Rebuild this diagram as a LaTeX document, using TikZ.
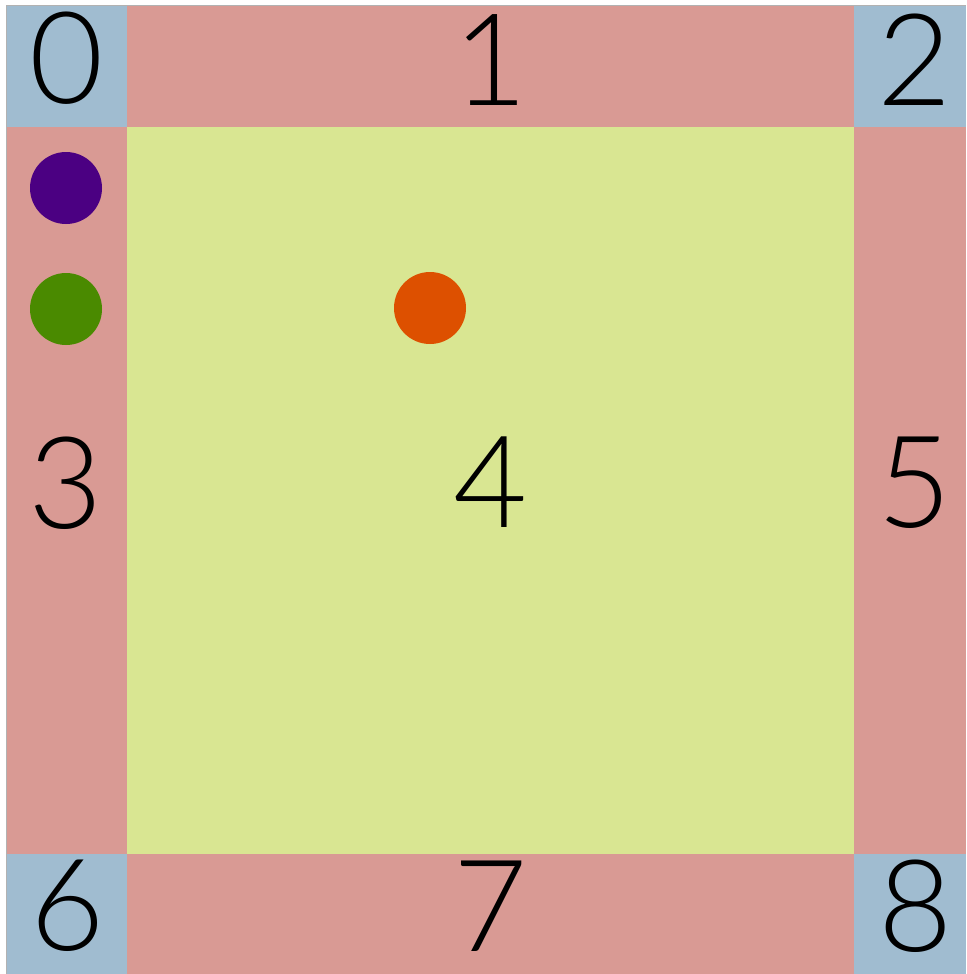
\documentclass[tikz,border=0pt]{standalone}
\usepackage{fontspec}
\setmainfont{Lato Light}
\definecolor{cornerblue}{HTML}{A0BCD0}
\definecolor{edgered}{HTML}{D99A94}
\definecolor{midgreen}{HTML}{D9E692}
\definecolor{dotpurple}{HTML}{4B0082}
\definecolor{dotgreen}{HTML}{4A8A00}
\definecolor{dotorange}{HTML}{DD5000}
\tikzset{cellnum/.style={inner sep=0pt,font=\fontsize{128}{128}\selectfont}}
\begin{document}
\begin{tikzpicture}[x=1pt,y=-1pt]
\useasboundingbox (0,0) rectangle (966,974);
\fill[white] (0,0) rectangle (966,974);
\fill[cornerblue] (6,6) rectangle (127,127);
\fill[edgered] (127,6) rectangle (854,127);
\fill[cornerblue] (854,6) rectangle (966,127);
\fill[edgered] (6,127) rectangle (127,854);
\fill[midgreen] (127,127) rectangle (854,854);
\fill[edgered] (854,127) rectangle (966,854);
\fill[cornerblue] (6,854) rectangle (127,974);
\fill[edgered] (127,854) rectangle (854,974);
\fill[cornerblue] (854,854) rectangle (966,974);
\draw[gray!60,line width=1pt] (6,974) -- (6,6) -- (966,6);
\node[cellnum] (n0) at (67,58) {0};
\node[cellnum] (n1) at (491,60) {1};
\node[cellnum] (n2) at (915,60) {2};
\node[cellnum] (n3) at (66,483) {3};
\node[cellnum] (n4) at (491,482) {4};
\node[cellnum] (n5) at (915,483) {5};
\node[cellnum] (n6) at (68,906) {6};
\node[cellnum] (n7) at (491,906) {7};
\node[cellnum] (n8) at (916,906) {8};
\fill[dotpurple] (66,188) circle (36);
\fill[dotgreen] (66,309) circle (36);
\fill[dotorange] (430,308) circle (36);
\end{tikzpicture}
\end{document}
